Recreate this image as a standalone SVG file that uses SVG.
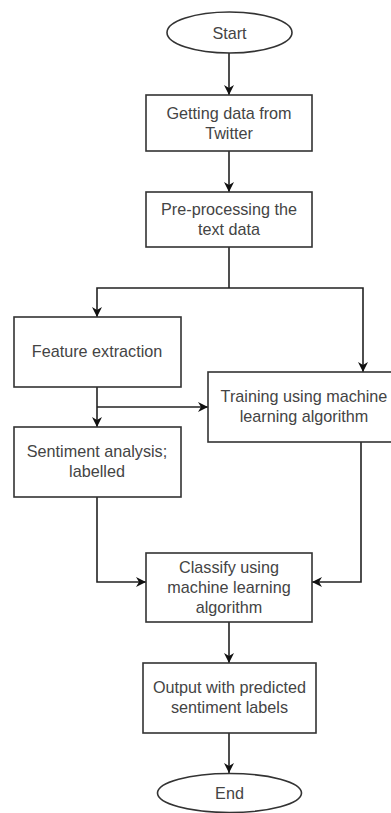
<svg xmlns="http://www.w3.org/2000/svg" width="391" height="813" viewBox="0 0 391 813">
<style>
.n{fill:#fff;stroke:#333;stroke-width:1.6}
.t{font-family:"Liberation Sans",Arial,sans-serif;font-size:16.2px;fill:#444;text-anchor:middle}
.c{fill:none;stroke:#222;stroke-width:1.6}
</style>
<defs>
<marker id="a" viewBox="0 0 10 10" refX="10" refY="5" markerWidth="10" markerHeight="10" markerUnits="userSpaceOnUse" orient="auto">
<path d="M0,0 L10,5 L0,10 L3,5 Z" fill="#111"/>
</marker>
</defs>
<rect width="391" height="813" fill="#fff"/>
<g id="connectors">
<path class="c" d="M229,53 V95" marker-end="url(#a)"/>
<path class="c" d="M229,151 V192" marker-end="url(#a)"/>
<path class="c" d="M229,247 V288"/>
<path class="c" d="M229,288 H97 V317" marker-end="url(#a)"/>
<path class="c" d="M229,288 H363 V372" marker-end="url(#a)"/>
<path class="c" d="M97,387 V427" marker-end="url(#a)"/>
<path class="c" d="M97,407 H208" marker-end="url(#a)"/>
<path class="c" d="M97,497 V582 H146" marker-end="url(#a)"/>
<path class="c" d="M361,442 V582 H312" marker-end="url(#a)"/>
<path class="c" d="M229,622 V663" marker-end="url(#a)"/>
<path class="c" d="M229,733 V773" marker-end="url(#a)"/>
</g>
<g id="start"><ellipse class="n" cx="229.5" cy="32.5" rx="62.5" ry="20.5"/><text class="t" x="229.5" y="38.5">Start</text></g>
<g id="getting"><rect class="n" x="146" y="95" width="166" height="56"/><text class="t" x="229" y="119">Getting data from</text><text class="t" x="229" y="139">Twitter</text></g>
<g id="preprocess"><rect class="n" x="146" y="192" width="166" height="55"/><text class="t" x="229" y="215">Pre-processing the</text><text class="t" x="229" y="235">text data</text></g>
<g id="feature"><rect class="n" x="14" y="317" width="167" height="70"/><text class="t" x="97" y="357">Feature extraction</text></g>
<g id="training"><rect class="n" x="208" y="372" width="195" height="70"/><text class="t" x="304" y="402">Training using machine</text><text class="t" x="304" y="422">learning algorithm</text></g>
<g id="sentiment"><rect class="n" x="14" y="427" width="167" height="70"/><text class="t" x="97" y="457">Sentiment analysis;</text><text class="t" x="97" y="477">labelled</text></g>
<g id="classify"><rect class="n" x="146" y="553" width="166" height="69"/><text class="t" x="229" y="573">Classify using</text><text class="t" x="229" y="593">machine learning</text><text class="t" x="229" y="613">algorithm</text></g>
<g id="output"><rect class="n" x="143" y="663" width="173" height="70"/><text class="t" x="229.5" y="693">Output with predicted</text><text class="t" x="229.5" y="713">sentiment labels</text></g>
<g id="end"><ellipse class="n" cx="229.5" cy="793" rx="72" ry="19.5"/><text class="t" x="229.5" y="799">End</text></g>
</svg>
